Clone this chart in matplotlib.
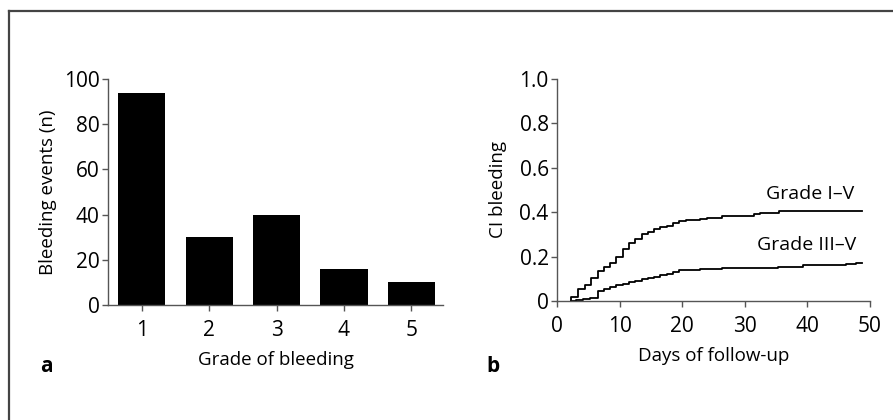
import matplotlib.pyplot as plt
from matplotlib.lines import Line2D

plt.rcParams["font.family"] = ["Open Sans", "DejaVu Sans"]

# ---------------------------------------------------------------------------
# data
# ---------------------------------------------------------------------------
grades = [1, 2, 3, 4, 5]
events = [94, 30, 40, 16, 10]

# cumulative incidence, grade I-V (step, post)
days_all = [2.3, 2.3, 3.4, 4.5, 5.5, 6.6, 7.5, 8.5, 9.4, 10.5, 11.5, 12.5,
            13.5, 14.5, 15.5, 16.5, 17.5, 18.5, 19.5, 20.6, 22.8, 23.9,
            26.4, 31.5, 32.4, 35.5, 48.7]
ci_all = [0.0, 0.02, 0.055, 0.07, 0.105, 0.135, 0.155, 0.17, 0.20, 0.235,
          0.26, 0.28, 0.30, 0.31, 0.325, 0.335, 0.34, 0.35, 0.36, 0.365,
          0.37, 0.375, 0.385, 0.39, 0.395, 0.405, 0.405]

# cumulative incidence, grade III-V
days_sev = [2.3, 3.1, 4.2, 5.2, 6.5, 7.5, 8.5, 9.5, 10.5, 11.5, 12.5, 13.5,
            14.5, 15.5, 16.5, 17.5, 18.5, 19.5, 22.8, 26.4, 35.3, 39.3,
            46.2, 47.8, 48.7]
ci_sev = [0.0, 0.005, 0.01, 0.015, 0.045, 0.055, 0.062, 0.07, 0.078, 0.085,
          0.09, 0.097, 0.105, 0.11, 0.115, 0.122, 0.13, 0.14, 0.145, 0.15,
          0.155, 0.162, 0.167, 0.172, 0.172]

TICK_FS = 15
LABEL_FS = 13.5
NOTE_FS = 14
SPINE = "#555555"

fig = plt.figure(figsize=(8.93, 4.2), dpi=100)

# partial frame (top + left) as in the source figure
fig.add_artist(Line2D([9 / 893, 9 / 893], [0, 1 - 11 / 420],
                      transform=fig.transFigure, color="#444444", lw=1.6))
fig.add_artist(Line2D([9 / 893, 1], [1 - 11 / 420, 1 - 11 / 420],
                      transform=fig.transFigure, color="#444444", lw=1.6))


def style(ax):
    for s in ("top", "right"):
        ax.spines[s].set_visible(False)
    for s in ("left", "bottom"):
        ax.spines[s].set_color(SPINE)
        ax.spines[s].set_linewidth(1.0)
    ax.tick_params(direction="out", length=4, width=1.0, color=SPINE,
                   labelsize=TICK_FS)
    ax.tick_params(axis="x", pad=7)
    ax.tick_params(axis="y", pad=2)


# --- panel a: bar chart ---
ax1 = fig.add_axes([108 / 893, 1 - 305 / 420, 335 / 893, 226 / 420])
ax1.bar(grades, events, width=0.7, color="black")
ax1.set_xlim(0.5, 5.47)
ax1.set_ylim(0, 100)
ax1.set_yticks([0, 20, 40, 60, 80, 100])
ax1.set_xticks(grades)
ax1.set_xlabel("Grade of bleeding", fontsize=LABEL_FS, labelpad=7)
ax1.set_ylabel("Bleeding events (n)", fontsize=LABEL_FS, labelpad=5)
style(ax1)

# --- panel b: cumulative incidence ---
ax2 = fig.add_axes([557 / 893, 1 - 301 / 420, 313 / 893, 222 / 420])
ax2.step(days_all, ci_all, where="post", color="black", lw=1.3)
ax2.step(days_sev, ci_sev, where="post", color="black", lw=1.3)
ax2.set_xlim(0, 50)
ax2.set_ylim(0, 1.0)
ax2.set_xticks([0, 10, 20, 30, 40, 50])
ax2.set_yticks([0, 0.2, 0.4, 0.6, 0.8, 1.0])
ax2.set_yticklabels(["0", "0.2", "0.4", "0.6", "0.8", "1.0"])
ax2.set_xlabel("Days of follow-up", fontsize=LABEL_FS, labelpad=7)
ax2.set_ylabel("CI bleeding", fontsize=LABEL_FS, labelpad=9)
ax2.text(47.5, 0.48, "Grade I\u2013V", fontsize=NOTE_FS, ha="right", va="center")
ax2.text(47.8, 0.25, "Grade III\u2013V", fontsize=NOTE_FS, ha="right", va="center")
style(ax2)

fig.text(40 / 893, 1 - 366 / 420, "a", fontsize=15, fontweight="bold",
         ha="left", va="center")
fig.text(486 / 893, 1 - 366 / 420, "b", fontsize=15, fontweight="bold",
         ha="left", va="center")

fig.savefig("out.png", dpi=100)
